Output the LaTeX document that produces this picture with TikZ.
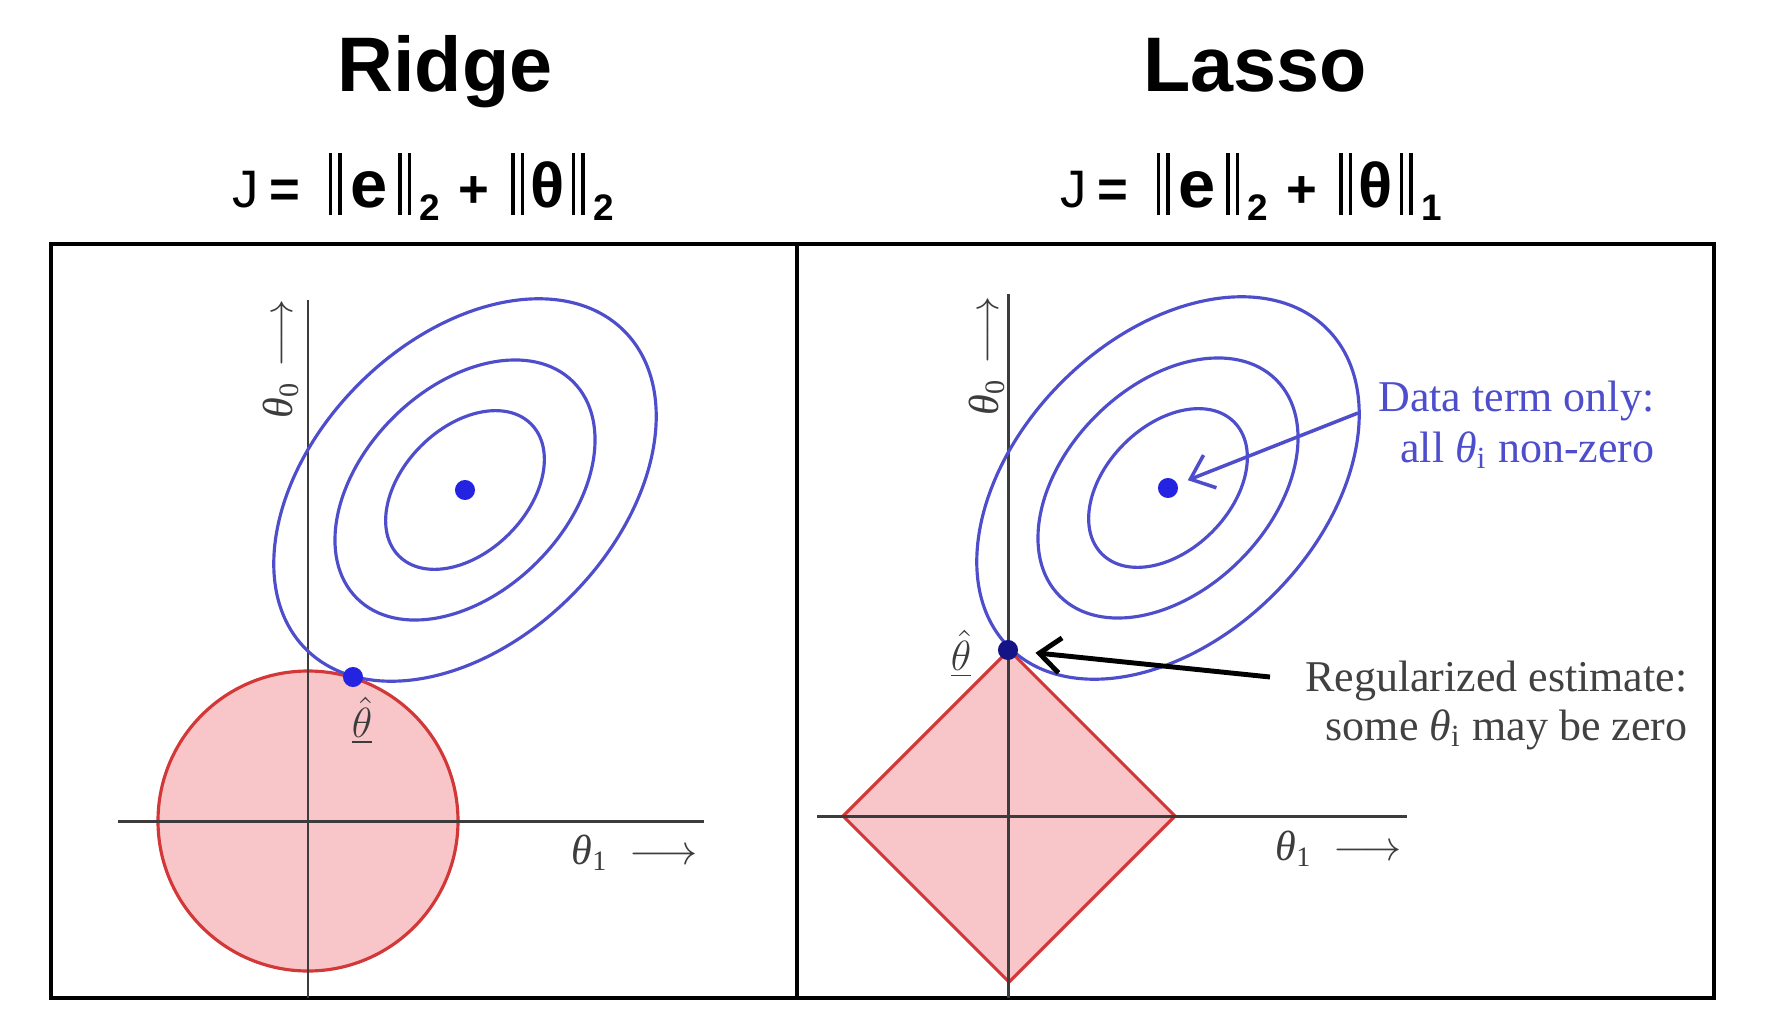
\documentclass[tikz,border=0pt]{standalone}
\usepackage{fontspec}
\setmainfont{Liberation Serif}
\setsansfont{Liberation Sans}
\usetikzlibrary{arrows.meta}

\definecolor{contourblue}{RGB}{78,78,205}
\definecolor{dotblue}{RGB}{35,35,225}
\definecolor{dotnavy}{RGB}{20,20,135}
\definecolor{ballfill}{RGB}{248,198,200}
\definecolor{balledge}{RGB}{212,55,55}
\definecolor{axisgray}{RGB}{60,60,60}
\definecolor{notegray}{RGB}{65,65,65}

% double bar of the norm
\newcommand{\dbar}{\rule[-2.3pt]{1pt}{17.6pt}\hspace{1.7pt}\rule[-2.3pt]{1pt}{17.6pt}}
% J = ||e||_2 + ||theta||_#1
\newcommand{\costfn}[1]{J\hspace{3pt}{\bfseries =}\hspace{8pt}\dbar\hspace{2.5pt}{\fontsize{19}{20}\selectfont\bfseries e}\hspace{3pt}\dbar\hspace{2.5pt}\raisebox{-3.7pt}{\fontsize{10.5}{11}\selectfont\bfseries 2}\hspace{5pt}{\bfseries +}\hspace{6.4pt}\dbar\hspace{1.8pt}{\fontsize{18}{20}\selectfont\bfseries θ}\hspace{2pt}\dbar\hspace{2.5pt}\raisebox{-3.7pt}{\fontsize{10.5}{11}\selectfont\bfseries #1}}

\begin{document}
\begin{tikzpicture}[
      x=0.01cm, y=0.01cm,
      ttl/.style={font=\sffamily\bfseries\fontsize{22}{26}\selectfont, anchor=base, inner sep=0pt},
      cost/.style={font=\sffamily\fontsize{15}{18}\selectfont, anchor=base west, inner sep=0pt},
      frame/.style={draw=black, line width=0.9pt},
      axis/.style={draw=axisgray, line width=0.85pt},
      contour/.style={draw=contourblue, line width=0.9pt},
      ball/.style={fill=ballfill, draw=balledge, line width=0.9pt},
      dot/.style={circle, fill=dotblue, inner sep=0pt, minimum size=5.7pt},
      ax/.style={font=\fontsize{12}{14}\selectfont, text=axisgray, inner sep=0pt},
      note/.style={font=\fontsize{12.5}{14}\selectfont, align=right, inner sep=0pt, anchor=north east},
      barb/.style={-{Straight Barb[length=6pt, width=10pt]}}
    ]
    \useasboundingbox (0,0) rectangle (1775,-1027);

    % ---- titles and cost functions ----
    \node[ttl]  (ridge)  at (445,-91)  {Ridge};
    \node[ttl]  (lasso)  at (1255,-91) {Lasso};
    \node[cost] (costR)  at (232,-207)  {\costfn{2}};
    \node[cost] (costL)  at (1060,-207) {\costfn{1}};

    % ---- panels ----
    \draw[frame] (51,-244) rectangle (1714,-998);
    \draw[frame] (797,-244) -- (797,-998);

    % ---- Ridge: disc, axes, contours ----
    \coordinate (rO) at (308,-821);
    \coordinate (rC) at (465,-490);
    \filldraw[ball] (rO) circle [radius=150];
    \draw[axis] (308,-300) -- (308,-998);
    \draw[axis] (118,-821) -- (704,-821);
    \foreach \s in {1,0.68,0.415}
      \draw[contour, rotate around={45:(rC)}] (rC) ellipse [x radius=225*\s, y radius=150*\s];
    \node[dot] (ctrR) at (rC) {};
    \node[dot] (estR) at (353,-677) {};

    \node[ax, rotate=90] (th0R) at (281,-359) {\textit{θ}\textsubscript{0}\hspace{4pt}$\longrightarrow$};
    \node[ax, anchor=west] (th1R) at (571,-853) {\textit{θ}\textsubscript{1}\hspace{6pt}$\longrightarrow$};
    \node[ax, anchor=north] (hatR) at (362,-696) {$\underline{\hat{\theta}}$};

    % ---- Lasso: diamond, axes, contours ----
    \coordinate (lC) at (1168,-488);
    \filldraw[ball, line join=miter] (843,-816) -- (1009,-650) -- (1175,-816) -- (1009,-982) -- cycle;
    \draw[axis] (1008,-294) -- (1008,-998);
    \draw[axis] (817,-816) -- (1407,-816);
    \foreach \s in {1,0.68,0.415}
      \draw[contour, rotate around={45:(lC)}] (lC) ellipse [x radius=225*\s, y radius=150*\s];
    \node[ax, anchor=east] (hatL) at (972,-654) {$\underline{\hat{\theta}}$};
    \node[dot] (ctrL) at (lC) {};
    \node[dot, fill=dotnavy] (estL) at (1008,-650) {};

    \node[ax, rotate=90] (th0L) at (987,-356) {\textit{θ}\textsubscript{0}\hspace{4pt}$\longrightarrow$};
    \node[ax, anchor=west] (th1L) at (1275,-849) {\textit{θ}\textsubscript{1}\hspace{6pt}$\longrightarrow$};

    % ---- annotations ----
    \node[note, text=contourblue] (dataterm) at (1655,-380)
      {Data term only:\\[0.5pt] all \textit{θ}\textsubscript{i} non-zero};
    \node[note, text=notegray] (regest) at (1688,-660)
      {Regularized estimate:\\ some \textit{θ}\textsubscript{i} may be zero};
    \coordinate (dtail) at (1358,-413);
    \coordinate (rtail) at (1270,-677);
    \draw[barb, draw=contourblue, line width=1pt, shorten >=3pt] (dtail) -- (ctrL);
    \draw[barb, draw=black, line width=1.4pt, shorten >=4.8pt] (rtail) -- (estL);

\end{tikzpicture}
\end{document}
